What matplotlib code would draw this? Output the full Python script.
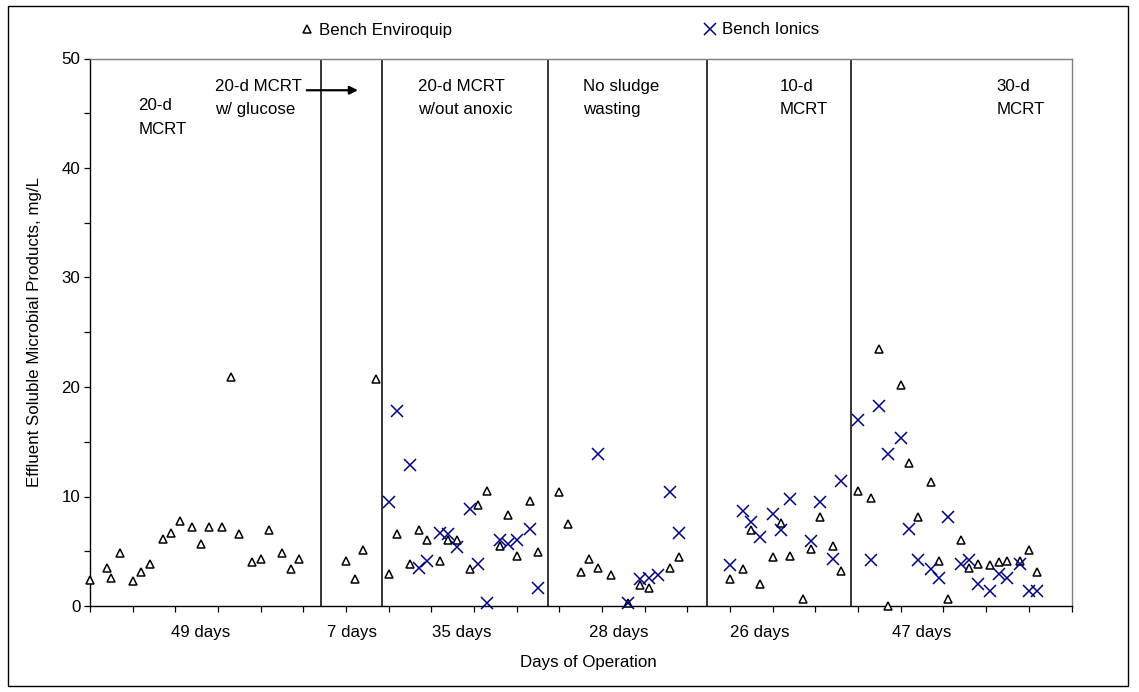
import matplotlib
matplotlib.use("Agg")
import matplotlib.pyplot as plt
from matplotlib.patches import Rectangle
from matplotlib.ticker import MultipleLocator, NullFormatter

plt.rcParams['font.family'] = ['Liberation Sans', 'DejaVu Sans']

# ---------------- data ----------------
env_days = [0, 4, 5, 7, 10, 12, 14, 17, 19, 21, 24, 26, 28, 31, 33, 35, 38, 40, 42, 45, 47, 49,
            60, 62, 64, 67,
            70, 72, 75, 77, 79, 82, 84, 86, 89, 91, 93, 96, 98, 100, 103, 105,
            110, 112, 115, 117, 119, 122, 126, 129, 131, 136, 138,
            150, 153, 155, 157, 160, 162, 164, 167, 169, 171, 174, 176,
            180, 183, 185, 187, 190, 192, 194, 197, 199, 201, 204, 206, 208, 211, 213, 215, 218, 220, 222]
env_vals = [2.4, 3.5, 2.6, 4.8, 2.3, 3.1, 3.8, 6.1, 6.7, 7.8, 7.2, 5.7, 7.2, 7.2, 20.9, 6.6, 4.0, 4.3, 6.9, 4.8, 3.4, 4.3,
            4.1, 2.5, 5.1, 20.7,
            2.9, 6.6, 3.8, 6.9, 6.0, 4.1, 6.0, 6.0, 3.4, 9.2, 10.5, 5.5, 8.3, 4.6, 9.6, 4.9,
            10.4, 7.5, 3.1, 4.3, 3.5, 2.8, 0.3, 1.9, 1.6, 3.5, 4.5,
            2.5, 3.4, 6.9, 2.0, 4.5, 7.6, 4.6, 0.6, 5.2, 8.1, 5.5, 3.2,
            10.5, 9.9, 23.5, 0.0, 20.2, 13.1, 8.1, 11.3, 4.1, 0.6, 6.0, 3.5, 3.8, 3.7, 4.0, 4.1, 4.1, 5.1, 3.1]

ion_days = [70, 72, 75, 77, 79, 82, 84, 86, 89, 91, 93, 96, 98, 100, 103, 105,
            119, 126, 129, 131, 133, 136, 138,
            150, 153, 155, 157, 160, 162, 164, 169, 171, 174, 176,
            180, 183, 185, 187, 190, 192, 194, 197, 199, 201, 204, 206, 208, 211, 213, 215, 218, 220, 222]
ion_vals = [9.5, 17.8, 12.9, 3.5, 4.1, 6.7, 6.6, 5.4, 8.9, 3.8, 0.3, 6.0, 5.7, 6.0, 7.0, 1.6,
            13.9, 0.3, 2.5, 2.6, 2.8, 10.4, 6.7,
            3.7, 8.7, 7.7, 6.3, 8.4, 6.9, 9.8, 5.9, 9.5, 4.3, 11.4,
            17.0, 4.2, 18.3, 13.9, 15.3, 7.0, 4.2, 3.4, 2.6, 8.1, 3.8, 4.2, 2.0, 1.4, 2.9, 2.6, 3.8, 1.4, 1.4]

phase_bounds = [54.1, 68.5, 107.4, 144.6, 178.4]

phase_labels = ["20-d\nMCRT", "20-d MCRT\nw/ glucose", "20-d MCRT\nw/out anoxic",
                "No sludge\nwasting", "10-d\nMCRT", "30-d\nMCRT"]
phase_label_x = [11.3, 29.3, 76.9, 115.6, 161.7, 212.4]
phase_label_y = [44.6, 46.4, 46.4, 46.4, 46.4, 46.4]

duration_labels = ["49 days", "7 days", "35 days", "28 days", "26 days", "47 days"]
duration_x = [26.0, 61.3, 87.0, 123.9, 157.0, 195.0]

series_names = ["Bench Enviroquip", "Bench Ionics"]

# ---------------- figure ----------------
W, H = 1139, 692
fig = plt.figure(figsize=(W / 100, H / 100), dpi=100)
ax = fig.add_axes([90 / W, 1 - 606 / H, (1071.5 - 90) / W, (606 - 58.5) / H])

FS = 12.2

h1, = ax.plot(env_days, env_vals, linestyle='none', marker='^', markersize=5.5,
              markerfacecolor='white', markeredgecolor='black', markeredgewidth=1.1,
              clip_on=False, zorder=3)
h2, = ax.plot(ion_days, ion_vals, linestyle='none', marker='x', markersize=8,
              markeredgecolor='#000080', markeredgewidth=1.1, clip_on=False, zorder=4)

for xb in phase_bounds:
    ax.axvline(xb, color='black', linewidth=1.1, zorder=2)

ax.set_xlim(0, 230)
ax.set_ylim(0, 50)
ax.xaxis.set_major_locator(MultipleLocator(10))
ax.xaxis.set_major_formatter(NullFormatter())
ax.yaxis.set_major_locator(MultipleLocator(10))
ax.yaxis.set_minor_locator(MultipleLocator(5))
ax.tick_params(axis='both', which='both', direction='out', length=4, width=0.9, colors='black')
ax.tick_params(axis='y', labelsize=FS, pad=3)

for s in ['left', 'bottom']:
    ax.spines[s].set_color('black')
    ax.spines[s].set_linewidth(1.0)
for s in ['top', 'right']:
    ax.spines[s].set_color('#808080')
    ax.spines[s].set_linewidth(1.0)

ax.set_ylabel("Effluent Soluble Microbial Products, mg/L", fontsize=FS, labelpad=14)
fig.text(588 / W, 1 - 663 / H, "Days of Operation", fontsize=FS, ha='center', va='center')

for lbl, x, y in zip(phase_labels, phase_label_x, phase_label_y):
    ax.text(x, y, lbl, fontsize=FS, ha='left', va='center', linespacing=1.7)

for lbl, x in zip(duration_labels, duration_x):
    ax.text(x, -2.4, lbl, fontsize=FS, ha='center', va='center')

ax.annotate("", xy=(62.8, 47.1), xytext=(50.8, 47.1),
            arrowprops=dict(arrowstyle='-|>', color='black', lw=1.6,
                            mutation_scale=12, shrinkA=0, shrinkB=0))

fig.legend([h1, h2], series_names, ncol=2, loc='center left',
           bbox_to_anchor=(300 / W, 1 - 30 / H), frameon=False, fontsize=FS,
           handlelength=0.8, handletextpad=0.3, columnspacing=14.85,
           borderpad=0, borderaxespad=0, numpoints=1)

fig.patches.append(Rectangle((8 / W, 1 - 686 / H), (1128 - 8) / W, (686 - 6) / H,
                             transform=fig.transFigure, fill=False,
                             edgecolor='black', linewidth=1.0))

fig.savefig("out.png", dpi=100)
